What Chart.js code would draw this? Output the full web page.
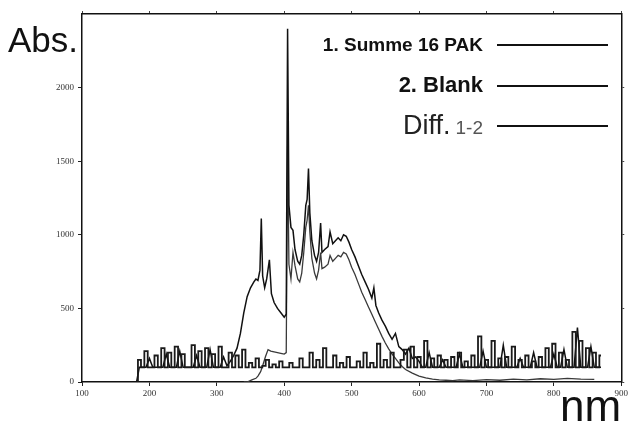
<!DOCTYPE html>
<html>
<head>
<meta charset="utf-8">
<script src="https://cdn.jsdelivr.net/npm/chart.js@4.4.1/dist/chart.umd.min.js"></script>
<style>
  html, body { margin: 0; padding: 0; background: #fff; }
  #wrap { width: 630px; height: 422px; }
</style>
</head>
<body>
<div id="wrap"><canvas id="chartCanvas" width="630" height="422"></canvas></div>
<script>
// Spektren: Wellenlaenge (nm) und Absorption

const xTicks = [100, 200, 300, 400, 500, 600, 700, 800, 900];
const yTicks = [0, 500, 1000, 1500, 2000];

const legendLabels = ['1. Summe 16 PAK', '2. Blank', 'Diff.'];

// Blank
const blankNm = [181,
  185, 190, 195, 200, 205, 210, 215, 220, 225, 230,
  235, 240, 245, 250, 255, 260, 265, 270, 275, 280,
  285, 290, 295, 300, 305, 310, 315, 320, 325, 330,
  335, 340, 345, 350, 355, 360, 365, 370, 375, 380,
  385, 390, 395, 400, 405, 410, 415, 420, 425, 430,
  435, 440, 445, 450, 455, 460, 465, 470, 475, 480,
  485, 490, 495, 500, 505, 510, 515, 520, 525, 530,
  535, 540, 545, 550, 555, 560, 565, 570, 575, 580,
  585, 590, 595, 600, 605, 610, 615, 620, 625, 630,
  635, 640, 645, 650, 655, 660, 665, 670, 675, 680,
  685, 690, 695, 700, 705, 710, 715, 720, 725, 730,
  735, 740, 745, 750, 755, 760, 765, 770, 775, 780,
  785, 790, 795, 800, 805, 810, 815, 820, 825, 830,
  835, 840, 845, 850, 855, 860, 865, 870];
const blankAbs = [0,
  150, 100, 210, 100, 100, 180, 100, 230, 100, 200,
  100, 240, 100, 190, 100, 100, 250, 100, 210, 100,
  230, 100, 190, 100, 240, 100, 100, 200, 100, 180,
  100, 220, 100, 130, 100, 160, 100, 110, 150, 100,
  120, 100, 140, 100, 100, 130, 100, 100, 160, 100,
  100, 200, 100, 150, 100, 230, 100, 100, 180, 100,
  130, 100, 170, 100, 100, 140, 100, 200, 100, 130,
  100, 260, 100, 150, 100, 200, 100, 100, 150, 220,
  100, 240, 100, 170, 100, 280, 100, 160, 100, 180,
  100, 150, 100, 170, 100, 200, 100, 140, 100, 180,
  100, 310, 100, 150, 100, 280, 100, 160, 100, 170,
  100, 240, 100, 150, 100, 180, 100, 140, 100, 170,
  100, 230, 100, 260, 100, 200, 100, 150, 100, 340,
  100, 280, 100, 230, 100, 200, 100, 180];

// 1. Summe 16 PAK
const summeNm = [181,
  185, 190, 195, 200, 205, 210, 215, 220, 225, 230,
  235, 240, 245, 250, 255, 260, 265, 270, 275, 280,
  285, 290, 295, 300, 305, 310, 315,
  320, 325, 330, 335, 340, 345, 350, 355, 358, 361,
  364, 366, 368, 371, 374, 378, 381, 385, 390, 395,
  400, 403, 405, 407, 410, 413, 416, 420, 423, 426,
  429, 432, 434, 436, 438, 441, 445, 448, 451, 454,
  456, 460, 465, 468, 472, 476, 480, 484, 488, 492,
  496, 500, 505, 510, 515, 520, 525, 530, 533, 536,
  540, 545, 550, 555, 560, 565, 570, 575, 580, 585,
  590, 595, 600,
  605, 610, 615, 620, 625, 630, 635, 640, 645, 650,
  655, 660, 665, 670, 675, 680, 685, 690, 695, 700,
  705, 710, 715, 720, 725, 730, 735, 740, 745, 750,
  755, 760, 765, 770, 775, 780, 785, 790, 795, 800,
  805, 810, 815, 820, 825, 830, 835, 840, 845, 850,
  855, 860, 865, 870];
const summeAbs = [0,
  100, 100, 100, 160, 100, 100, 100, 100, 190, 100,
  100, 100, 210, 100, 100, 100, 100, 180, 100, 100,
  100, 220, 100, 100, 100, 170, 110,
  140, 180, 230, 330, 470, 580, 640, 680, 700, 690,
  760, 1110, 720, 640, 700, 830, 600, 540, 500, 470,
  440, 460, 2400, 1200, 1050, 1030, 900, 820, 800, 860,
  1000, 1200, 1240, 1450, 1150, 960, 860, 820, 880, 1080,
  880, 900, 920, 1020, 940, 960, 980, 960, 1000, 990,
  950, 900, 850, 790, 730, 680, 630, 570, 640, 520,
  470, 420, 380, 330, 290, 330, 240, 220, 190, 230,
  160, 170, 140,
  100, 100, 200, 100, 100, 100, 150, 100, 100, 100,
  100, 190, 100, 100, 100, 100, 100, 100, 210, 100,
  100, 100, 100, 100, 250, 100, 100, 100, 100, 160,
  100, 100, 100, 200, 100, 100, 100, 100, 100, 190,
  100, 100, 220, 100, 100, 100, 370, 100, 100, 100,
  240, 100, 100, 100];

// Diff. 1-2
const diffNm = [340, 345, 352, 358, 361, 365, 368, 372, 376, 380,
  385, 390, 395, 400, 403, 405, 407, 410, 413, 416,
  420, 423, 426, 429, 432, 434, 436, 438, 441, 445,
  448, 451, 454, 456, 460, 465, 468, 472, 476, 480,
  484, 488, 492, 496, 500, 505, 510, 515, 520, 525,
  530, 535, 540, 545, 550, 555, 560, 565, 570, 575,
  580, 590, 600, 610, 620, 630, 640, 650, 660, 680,
  700, 720, 740, 760, 780, 800, 820, 840, 860];
const diffAbs = [0, 0, 14, 25, 40, 70, 110, 170, 220, 210,
  205, 200, 195, 190, 200, 1600, 800, 700, 880, 790,
  700, 680, 740, 880, 1050, 1100, 1200, 1020, 840, 740,
  700, 760, 880, 770, 780, 800, 860, 820, 840, 860,
  850, 880, 870, 830, 780, 730, 670, 610, 560, 510,
  460, 410, 360, 310, 265, 225, 190, 160, 130, 105,
  85, 60, 40, 28, 20, 15, 12, 10, 14, 10,
  16, 12, 20, 15, 22, 18, 25, 20, 18];

function toPoints(xs, ys) {
  return xs.map((x, i) => ({ x: x, y: ys[i] }));
}

const serif = '"Liberation Serif", "DejaVu Serif", serif';
const sans = '"Liberation Sans", Arial, sans-serif';

// Legende und Achsentitel von Hand zeichnen
const textPlugin = {
  id: 'texte',
  afterDraw(chart) {
    const ctx = chart.ctx;
    ctx.save();
    ctx.fillStyle = '#111';
    ctx.textBaseline = 'alphabetic';

    ctx.textAlign = 'left';
    ctx.font = '35px ' + sans;
    ctx.fillText('Abs.', 8, 52);
    ctx.font = '44px ' + sans;
    ctx.fillText('nm', 560, 421);

    ctx.textAlign = 'right';
    ctx.font = 'bold 19px ' + sans;
    ctx.fillText(legendLabels[0], 483, 51);
    ctx.font = 'bold 22px ' + sans;
    ctx.fillText(legendLabels[1], 483, 92);
    ctx.font = '19px ' + sans;
    ctx.fillStyle = '#555';
    ctx.fillText('1-2', 483, 134);
    const w = ctx.measureText('1-2').width;
    ctx.font = '27px ' + sans;
    ctx.fillStyle = '#222';
    ctx.fillText(legendLabels[2], 478 - w, 134);

    ctx.strokeStyle = '#111';
    ctx.lineWidth = 2;
    [45, 86, 126].forEach(y => {
      ctx.beginPath();
      ctx.moveTo(497, y);
      ctx.lineTo(608, y);
      ctx.stroke();
    });
    ctx.restore();
  }
};

const plain = v => String(v);

const ctx = document.getElementById('chartCanvas').getContext('2d');
const chart = new Chart(ctx, {
  type: 'scatter',
  data: {
    datasets: [
      {
        label: legendLabels[1],
        data: toPoints(blankNm, blankAbs),
        showLine: true,
        stepped: 'middle',
        borderColor: '#1a1a1a',
        borderWidth: 1.8,
        pointRadius: 0
      },
      {
        label: legendLabels[0],
        data: toPoints(summeNm, summeAbs),
        showLine: true,
        borderColor: '#111',
        borderWidth: 1.5,
        pointRadius: 0
      },
      {
        label: legendLabels[2],
        data: toPoints(diffNm, diffAbs),
        showLine: true,
        borderColor: '#3a3a3a',
        borderWidth: 1.3,
        pointRadius: 0
      }
    ]
  },
  options: {
    responsive: false,
    animation: false,
    layout: { padding: 0 },
    plugins: {
      legend: { display: false },
      tooltip: { enabled: false }
    },
    scales: {
      x: {
        type: 'linear',
        position: 'bottom',
        min: 100,
        max: 900,
        afterBuildTicks: s => { s.ticks = xTicks.map(v => ({ value: v })); },
        afterFit: s => { s.height = 40; },
        ticks: { font: { family: serif, size: 9 }, color: '#333', padding: 2, maxRotation: 0, callback: plain },
        grid: { drawOnChartArea: false, tickLength: 4, color: '#222' },
        border: { color: '#111', width: 1.5 }
      },
      x2: {
        type: 'linear',
        position: 'top',
        min: 100,
        max: 900,
        afterBuildTicks: s => { s.ticks = xTicks.map(v => ({ value: v })); },
        afterFit: s => { s.height = 14; },
        ticks: { display: false },
        grid: { drawOnChartArea: false, tickLength: 3, color: '#444' },
        border: { color: '#111', width: 1.5 }
      },
      y: {
        min: 0,
        max: 2500,
        afterBuildTicks: s => { s.ticks = yTicks.map(v => ({ value: v })); },
        afterFit: s => { s.width = 82; },
        ticks: { font: { family: serif, size: 9 }, color: '#333', padding: 4, callback: plain },
        grid: { drawOnChartArea: false, tickLength: 4, color: '#222' },
        border: { color: '#111', width: 1.5 }
      },
      y2: {
        position: 'right',
        min: 0,
        max: 2500,
        afterBuildTicks: s => { s.ticks = yTicks.map(v => ({ value: v })); },
        afterFit: s => { s.width = 8; },
        ticks: { display: false },
        grid: { drawOnChartArea: false, tickLength: 3, color: '#444' },
        border: { color: '#111', width: 1.5 }
      }
    }
  },
  plugins: [textPlugin]
});
</script>
</body>
</html>
